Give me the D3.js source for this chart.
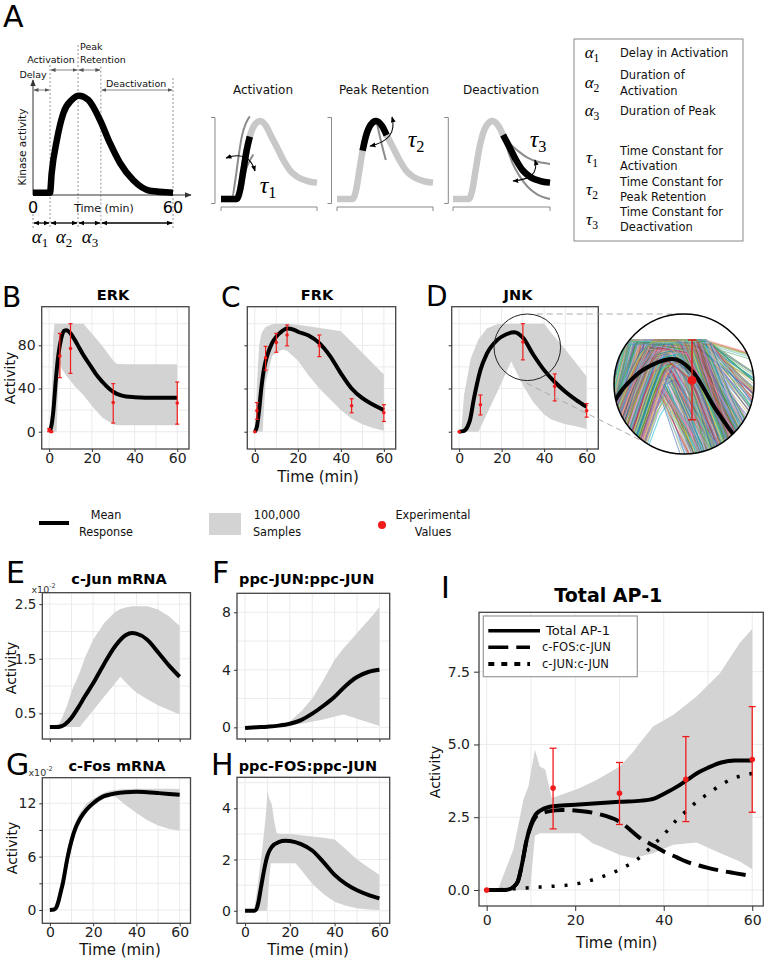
<!DOCTYPE html>
<html><head><meta charset="utf-8">
<script src="https://cdn.jsdelivr.net/npm/d3@7"></script>
<style>body{margin:0;background:#fff}svg{display:block}</style>
</head><body><script>
// ---------------- DATA ----------------
// Panel A schematic (normalised kinase activity)
const schemTime = [0,7.3,8,10.2,13,16.6,19.7,23.7,28.7,33,37.3,42.9,50.1,60];
const schemAct  = [0,0,0.2,0.54,0.82,0.956,1,0.956,0.75,0.51,0.306,0.13,0.02,0];
const phaseBounds = [0,7.3,19.3,29.1,60];
const insetTime = [0,9.8,12,14,16,18,21,24.4,28,31,34.8,39,43,48,54,60];
const insetAct  = [0,0,0.12,0.37,0.62,0.8,0.95,1,0.94,0.82,0.67,0.5,0.37,0.28,0.23,0.21];
const insetEarlyT = [0,6.7,9,11,13,15.5,18];
const insetEarlyV = [0,0,0.25,0.55,0.8,0.97,1.06];
const insetLateT = [9,11,14,17,20.2];
const insetLateV = [0,0.1,0.28,0.45,0.57];
const insetPeakVarT = [25,27.5,30.5];
const insetPeakVarV = [0.97,0.74,0.5];
const insetSlowT = [31,34.8,40,46,52,60];
const insetSlowV = [0.82,0.72,0.62,0.53,0.48,0.45];
const insetFastT = [31,34,37,41,46,52,60];
const insetFastV = [0.82,0.62,0.45,0.3,0.16,0.06,0];
const paramSymbols = ["α","α","α","τ","τ","τ"];
const paramSubs = ["1","2","3","1","2","3"];
const paramText = [["Delay in Activation"],["Duration of","Activation"],["Duration of Peak"],
  ["Time Constant for","Activation"],["Time Constant for","Peak Retention"],["Time Constant for","Deactivation"]];

// ERK
const erkTime = [0,1,2,3,4,5,6,7,8,9,10,12,14,16,18,20,22,25,28,30,33,36,40,50,60];
const erkMean = [0,5,20,45,66,80,89,93.5,94,93,91,85,78,71,65,59,53,46,40,37,34,32.5,32,31.5,31.5];
const erkBandTime = [0,1,2,2.5,3.5,4,4.7,6,8,12,16,20,25,30,31.5,35,40,50,60];
const erkBandLow  = [0,0,0,0,0,30,64,58,52,42,34,24,13,7,6,6,6,6,6];
const erkBandHigh = [0,20,90,100,100,100,100,100,100,100,100,91,79,66,63,62.5,62.5,62.5,62.5];
const erkExpTime = [0,1,5,10,30,60];
const erkExpVal  = [1.5,0,70,77,27,26.5];
const erkExpLow  = [0,-0.5,50,54,8,7];
const erkExpHigh = [3,0.5,91,100,44.5,46];
// FRK
const frkTime = [0,1,2,3,4,5,6,8,10,12,15,18,20,25,30,35,40,45,50,55,60];
const frkMean = [0,5,20,40,55,65,72,82,88,92,95.5,94.5,92.5,89,82,70,54,40,31,25,20];
const frkBandTime = [0,0.5,1,2,3,3.6,5,8,10,13,15,20,25,30,33.5,40,45,50,55,60];
const frkBandLow  = [0,0,0,0,0,0,45,70,73,76,75,66,52,40,33,20,12,7,3.5,1];
const frkBandHigh = [0,15,45,80,90,93,97,99.5,100,100,100,99,97.5,96,95,93,83,73,63,53];
const frkExpTime = [0,1,5,10,15,30,45,60];
const frkExpVal  = [0,19.5,68.5,82.5,89.5,79.5,24,17.5];
const frkExpLow  = [0,11.5,57,73.5,79.5,69.5,17.5,9.5];
const frkExpHigh = [0,27,79,91,98.8,89.5,30.5,25];
// JNK
const jnkTime = [0,2,4,5,7,10,13,18,22,26,30,35,40,45,50,55,60];
const jnkMean = [0,0.5,5,10,31,57,72,85,90,92,87,71,57,46,37,29.5,23];
const jnkBandTime = [0,1,2.3,5.5,9,9.3,13.2,18,24.5,30,35,40,43.6,50,55,60];
const jnkBandLow  = [0,0,0,0,0,1,17,37,65,43,27,16,11,7,5,2.5];
const jnkBandHigh = [0,0,34,68,85,86,95.7,99.5,100,100,100,100,91,76,63.5,51];
const jnkExpTime = [0,10,30,45,60];
const jnkExpVal  = [0,25,83,42,19.5];
const jnkExpLow  = [0,15.5,66.5,28.5,13.5];
const jnkExpHigh = [0,34,100,53.5,26];
// JNK magnified sample trajectories (t, activity)
const zoomSamples = [
 [[12,60],[16,100],[30,100],[40,52]],[[12,70],[17,100],[28,100],[36,50]],[[13,55],[18,100],[31,100],[43,60]],
 [[12,50],[19,100],[29,100],[37,55]],[[14,58],[20,100],[32,100],[41,48]],[[12,75],[16.5,100],[27,100],[34,50]],
 [[13,62],[18.5,100],[30.5,100],[45,65]],[[15,55],[21,100],[33,100],[46,72]],[[12,65],[17.5,100],[26,100],[33,50]],
 [[16,52],[22,100],[29.5,100],[39,50]],[[13,50],[20.5,100],[31.5,100],[38,45]],[[14,68],[18,100],[32.5,100],[48,80]],
 [[12,57],[17,100],[25,100],[31,50]],[[17,55],[23,100],[30,100],[42,50]],[[13,72],[16,100],[28.5,100],[40,58]],
 [[15,62],[19.5,100],[27.5,100],[35,52]],[[14,52],[21.5,100],[31,100],[44,55]],[[12,53],[18,100],[33,100],[50,90]],
 [[16,60],[20,100],[26.5,100],[36,55]],[[13,66],[17,100],[29,100],[38,50]],[[18,52],[23.5,100],[28,100],[37,48]],
 [[12,62],[19,100],[30,100],[35,60]],[[13.5,60],[19,85],[24,92],[35,52]],[[13.5,55],[20,82],[25,88],[33,52]],
 [[18.6,52],[22,70],[24.5,78],[29,52]],[[18,52],[21.5,72],[24,80],[30,52]],[[17,52],[21,76],[23.6,82],[31,52]],
 [[13.5,65],[18,88],[22,95],[30,70],[36,52]],[[14,70],[19,92],[23,97],[34,62]],[[15,52],[20,80],[25,85],[32,52]],
 [[13.5,52],[17,70],[22,85],[30,60]],[[13.5,52],[17,62],[20,75],[23,90]],[[25,100],[33,100],[44,85]],
 [[27,100],[32,100],[44,75]],[[30,100],[33,100],[43.5,82]],[[27,100],[36,52]],[[29,100],[38,52]],
 [[26,100],[34,52]],[[31,100],[40,52]],[[32,100],[42,52]],[[14.5,45],[17.5,67],[20.5,88],[23,100]],
 [[15.5,45],[18.5,66],[21.5,86],[24,100]],[[13.5,45],[16,60],[19,80],[22,97]],[[16.5,45],[19,62],[22,82],[24.5,95]],
 [[13,45],[15.5,58],[18,74],[20.5,90],[23,100],[29,100],[37,60]],[[14,45],[16.5,58],[19,74],[21.5,90],[24,100],[30,100],[38,58]],
 [[15,45],[17.5,58],[20,72],[22.5,88],[25,99],[31,98],[40,60]],[[16,45],[18.5,58],[21,72],[23.5,86],[26,95],[32,90],[42,60]],
 [[17,45],[19,56],[21,68],[23,80],[25,90],[29,92],[38,62]],[[13,50],[15,60],[17,72],[19,84],[21,94],[23,100],[33,100],[44,70]],
 [[13,55],[15.5,70],[18,84],[20,94],[22,100],[31,100],[46,75]],[[13.5,48],[16,62],[18.5,78],[21,92],[23,100]],
 [[14.5,48],[17,60],[19.5,76],[22,90],[24.5,100]],[[28,100],[35,60],[38,45]],[[30,100],[37,55]],
 [[29,100],[34,70],[38,50]],[[31,100],[36,70],[41,50]],[[33,100],[38,75],[43,55]],
 [[12.5,58],[15,72],[17.5,86],[20,96],[22,100],[27,100],[33,78],[38,52]],[[12.5,48],[15,62],[17,74],[19.5,88],[22,98],[28,96],[35,66]],
 [[12,45],[14,55],[16,66],[18,78],[20,88],[22,94],[26,96],[32,80],[37,55]],[[12,52],[14.5,64],[17,77],[19.5,89],[22,96]],
 [[15,45],[17,55],[19,66],[21,78],[23,88],[26,93],[31,85],[36,60]],[[12,40],[15,52],[17.5,64],[20,78],[22.5,92]]
];
const zoomShift = [0,0.4,-0.4,0.8,-0.8,1.2,-1.2];
const zoomPalette = ["#4c72b0","#55a868","#c44e52","#8172b2","#ccb974","#64b5cd","#e377c2","#2ca02c",
  "#1f77b4","#9467bd","#d62728","#17becf","#98df8a","#ff9896","#aec7e8","#c5b0d5","#bcbd22","#8c564b"];

// c-Jun mRNA (x10^-2)
const cjunTime = [0,3,5,7,10,13,16,20,25,30,35,38,40,45,50,55,60];
const cjunMean = [0.25,0.25,0.26,0.3,0.42,0.6,0.8,1.05,1.4,1.72,1.93,1.97,1.96,1.85,1.62,1.38,1.17];
const cjunBandTime = [0,4,6,8,10,13.8,16,20,25,30,32.6,35,38,40,45,50,55,60];
const cjunBandLow  = [0.25,0.25,0.25,0.25,0.25,0.25,0.36,0.55,0.8,1.04,1.17,1.07,0.95,0.88,0.76,0.65,0.56,0.48];
const cjunBandHigh = [0.25,0.28,0.45,0.65,0.9,1.25,1.5,1.85,2.15,2.35,2.41,2.44,2.46,2.46,2.46,2.4,2.28,2.1];
// ppc-JUN:ppc-JUN
const jjTime = [0,5,10,15,20,25,30,35,40,45,50,55,60];
const jjMean = [-0.05,0,0.05,0.12,0.25,0.5,0.95,1.5,2.13,2.9,3.5,3.85,4.0];
const jjBandTime = [0,10,15,20,25,30,35,40,44,48,52,56,60];
const jjBandLow  = [0,0,0.05,0.15,0.25,0.4,0.55,0.75,0.9,0.7,0.5,0.3,0.1];
const jjBandHigh = [0,0.05,0.15,0.4,1.1,2.0,3.3,4.7,5.5,6.2,6.9,7.6,8.35];
// c-Fos mRNA (x10^-2)
const cfosTime = [0,2,3,4,5,6,8,10,12,14,17,20,25,28,30,35,40,45,50,55,60];
const cfosMean = [0,0.05,0.3,1.0,2.0,3.0,5.7,7.8,9.3,10.3,11.3,12.0,12.8,13.0,13.1,13.25,13.3,13.25,13.15,13.05,12.95];
const cfosBandLow  = [0,0,0.05,0.4,1.2,2.2,4.8,7.0,8.7,9.8,10.9,11.7,12.5,12.7,12.8,11.8,10.9,10.1,9.5,9.15,8.9];
const cfosBandHigh = [0,0.3,1.0,2.0,3.0,4.2,6.8,8.7,10.0,11.0,12.0,12.5,13.2,13.4,13.5,13.6,13.65,13.65,13.65,13.65,13.6];
// ppc-FOS:ppc-JUN
const fjTime = [0,4,5,6,7,8,9,10,12,15,18,20,25,30,35,40,45,50,55,60];
const fjMean = [0,0,0.05,0.35,0.85,1.35,1.8,2.15,2.5,2.68,2.73,2.72,2.6,2.35,1.9,1.4,1.05,0.8,0.62,0.48];
const fjBandTime = [0,4,5.5,7.8,9,9.6,10,10.7,11.5,12,13,14.2,16,20,22.5,25,30,35,40,45,50,55,60];
const fjBandHigh = [0,0,0.9,2.5,3.5,4.1,4.7,4.4,4.25,4.13,3.5,3.02,3.0,3.0,2.98,2.95,2.9,2.85,2.78,2.4,2.0,1.7,1.4];
const fjBandLow  = [0,0,0,0,0,0,0.2,1.2,1.85,1.85,1.85,1.85,1.85,1.85,1.85,1.6,1.05,0.65,0.35,0.2,0.1,0.05,0.03];
// Total AP-1
const apTime   = [0,4,5,6,7,8,9,10,11,12,14,17,20,25,30,35,38,40,43,45,48,50,53,56,60];
const apTotal  = [0,0,0.02,0.1,0.28,0.9,1.7,2.25,2.58,2.72,2.85,2.9,2.93,2.98,3.03,3.07,3.15,3.3,3.55,3.75,4.05,4.2,4.38,4.45,4.45];
const apFosJun = [0,0,0.02,0.1,0.28,0.9,1.7,2.2,2.5,2.6,2.7,2.75,2.73,2.62,2.35,1.75,1.5,1.32,1.12,0.98,0.84,0.76,0.66,0.58,0.48];
const apJunJun = [0,0.02,0.03,0.04,0.05,0.06,0.07,0.08,0.09,0.1,0.12,0.15,0.2,0.4,0.7,1.17,1.6,1.9,2.42,2.7,3.1,3.3,3.62,3.85,4.0];
const apBandTime = [0,2.5,6,8.3,9.5,9.8,10.9,12,13.2,14.7,17,20,21,24,24.8,30.1,33.1,34.6,37.6,42.2,47.4,52.7,57.2,60];
const apBandHigh = [0,0,1.38,3.1,3.6,3.9,4.82,4.24,4.15,3.15,3.28,3.44,3.5,3.72,3.78,4.24,4.75,5.05,5.62,6.02,6.65,7.45,8.49,8.97];
const apBandLow  = [0,0,0,0,0,0,1.86,1.95,1.95,1.95,1.95,1.95,1.95,1.6,1.55,1.2,1.09,1.15,1.26,1.55,1.63,1.27,0.98,0.71];
const apExpTime = [0,15,30,45,60];
const apExpVal  = [0,3.5,3.32,3.8,4.48];
const apExpLow  = [0,2.1,2.25,2.35,2.67];
const apExpHigh = [0,4.87,4.38,5.27,6.3];

// ---------------- DRAWING ----------------
const BAND = "#d3d3d3", RED = "#f01c1c", GRID = "#ebebeb", FRAME = "#444";
const SANS = "DejaVu Sans, sans-serif", SERIF = "Liberation Serif, DejaVu Serif, serif";
const svg = d3.select("body").append("svg").attr("width",775).attr("height",959).style("font-family",SANS);
const defs = svg.append("defs");
function marker(id,size,color){
  defs.append("marker").attr("id",id).attr("viewBox","0 0 10 10").attr("refX",9).attr("refY",5)
    .attr("markerWidth",size).attr("markerHeight",size).attr("markerUnits","userSpaceOnUse")
    .attr("orient","auto-start-reverse").append("path").attr("d","M0,1L10,5L0,9Z").attr("fill",color);
}
marker("ahS",5,"#555"); marker("ahK",6,"#000"); marker("ahA",7,"#333");
const zip = (a,b)=>a.map((v,i)=>[v,b[i]]);
function txt(x,y,s,o={}){
  const t = svg.append("text").attr("x",x).attr("y",y).text(s)
    .attr("font-size",o.size||12).attr("fill",o.fill||"#111")
    .attr("text-anchor",o.anchor||"middle").attr("dominant-baseline",o.base||"central");
  if(o.weight) t.attr("font-weight",o.weight);
  if(o.family) t.attr("font-family",o.family);
  if(o.rotate) t.attr("transform",`rotate(${o.rotate},${x},${y})`);
  return t;
}
function letter(x,y,s,size){ txt(x,y,s,{size:size||30,anchor:"start",base:"alphabetic",fill:"#000"}); }
function symbol(x,y,sym,sub,size){
  const t = svg.append("text").attr("x",x).attr("y",y).attr("text-anchor","middle")
    .attr("font-family",SERIF).attr("font-size",size).attr("fill","#000");
  t.append("tspan").attr("font-style","italic").text(sym);
  t.append("tspan").attr("font-size",size*0.68).attr("dy",size*0.22).text(sub);
}

// ---- Panel A: schematic ----
letter(3,27,"A",30);
const ax = d3.scaleLinear().domain([0,60]).range([33,173]);
const ay = d3.scaleLinear().domain([0,1]).range([192.7,95.7]);
const bTop = [null,65,45,66.7,78];
phaseBounds.forEach((b,i)=>{
  svg.append("line").attr("x1",ax(b)).attr("x2",ax(b)).attr("y1",i===0?214:bTop[i]).attr("y2",228)
    .attr("stroke","#777").attr("stroke-width",0.8).attr("stroke-dasharray","2,2");
});
svg.append("line").attr("x1",33).attr("y1",195).attr("x2",33).attr("y2",80).attr("stroke","#333").attr("marker-end","url(#ahA)");
svg.append("line").attr("x1",33).attr("y1",195).attr("x2",191).attr("y2",195).attr("stroke","#333").attr("marker-end","url(#ahA)");
svg.append("path").datum(zip(schemTime,schemAct)).attr("fill","none").attr("stroke","#000")
  .attr("stroke-width",6.5).attr("stroke-linejoin","round")
  .attr("d",d3.line().x(d=>ax(d[0])).y(d=>ay(d[1])).curve(d3.curveMonotoneX));
const topArrows = [[0,1,90],[1,2,70],[2,3,70],[3,4,90]];
topArrows.forEach(a=>svg.append("line").attr("x1",ax(phaseBounds[a[0]])+1).attr("x2",ax(phaseBounds[a[1]])-1)
  .attr("y1",a[2]).attr("y2",a[2]).attr("stroke","#666").attr("stroke-width",0.8)
  .attr("marker-start","url(#ahS)").attr("marker-end","url(#ahS)"));
[0,1,2,3].forEach(i=>svg.append("line").attr("x1",ax(phaseBounds[i])+1).attr("x2",ax(phaseBounds[i+1])-1)
  .attr("y1",223).attr("y2",223).attr("stroke","#000").attr("stroke-width",1.3)
  .attr("marker-start","url(#ahK)").attr("marker-end","url(#ahK)"));
txt(33,78,"Delay",{size:9.5,base:"alphabetic"});
txt(51,62.7,"Activation",{size:9.5,base:"alphabetic"});
txt(80,50,"Peak",{size:9.5,base:"alphabetic",anchor:"start"});
txt(80,62.7,"Retention",{size:9.5,base:"alphabetic",anchor:"start"});
txt(106,86.7,"Deactivation",{size:9.5,base:"alphabetic",anchor:"start"});
txt(22,147,"Kinase activity",{size:10.5,rotate:-90});
txt(33,213,"0",{size:16,base:"alphabetic",fill:"#000"});
txt(173,213,"60",{size:16,base:"alphabetic",fill:"#000"});
txt(104,211.5,"Time (min)",{size:11,base:"alphabetic"});
symbol(40,243,"α","1",19); symbol(64,243,"α","2",19); symbol(90,243,"α","3",19);

// insets
const insets = [
  {x0:221,x1:317,bx:215,title:"Activation",tx:263},
  {x0:337,x1:433,bx:331.5,title:"Peak Retention",tx:384},
  {x0:453,x1:550,bx:448.3,title:"Deactivation",tx:501}];
insets.forEach((c,k)=>{
  const ix = d3.scaleLinear().domain([0,60]).range([c.x0,c.x1]);
  const iy = d3.scaleLinear().domain([0,1]).range([199,121]);
  const ln = d3.line().x(d=>ix(d[0])).y(d=>iy(d[1])).curve(d3.curveMonotoneX);
  txt(c.tx,90,c.title,{size:12});
  svg.append("path").attr("d",`M${c.bx-4},117.5H${c.bx}V203.5H${c.bx-4}`).attr("fill","none").attr("stroke","#888");
  svg.append("path").attr("d",`M${c.x0},211V207H${c.x1}V211`).attr("fill","none").attr("stroke","#888");
  const full = zip(insetTime,insetAct);
  svg.append("path").datum(full).attr("d",ln).attr("fill","none").attr("stroke","#c8c8c8").attr("stroke-width",6.5);
  const grey = d => svg.append("path").datum(d).attr("d",ln).attr("fill","none").attr("stroke","#8c8c8c").attr("stroke-width",2);
  const black = d => svg.append("path").datum(d).attr("d",ln).attr("fill","none").attr("stroke","#000").attr("stroke-width",6.5);
  if(k===0){ grey(zip(insetEarlyT,insetEarlyV)); grey(zip(insetLateT,insetLateV)); black(full.filter(d=>d[0]<=18)); }
  if(k===1){ grey(zip(insetPeakVarT,insetPeakVarV)); black(full.filter(d=>d[0]>=16&&d[0]<=31)); }
  if(k===2){ grey(zip(insetSlowT,insetSlowV)); grey(zip(insetFastT,insetFastV)); black(full.filter(d=>d[0]>=31)); }
});
const arcs = ["M226,158Q249,150 255,171","M392,117Q398,140 370,146","M535,160Q540,179 513,181"];
arcs.forEach(a=>svg.append("path").attr("d",a).attr("fill","none").attr("stroke","#000").attr("stroke-width",1.1)
  .attr("marker-start","url(#ahK)").attr("marker-end","url(#ahK)"));
symbol(268,193,"τ","1",24); symbol(416,147,"τ","2",24); symbol(538,147,"τ","3",24);

// A legend box
svg.append("rect").attr("x",574).attr("y",39).attr("width",169).attr("height",202).attr("fill","none").attr("stroke","#888");
const symY = [53,83,111,158,190,220];
const txtY = [[53],[75,91],[111],[151,166],[182,197],[212,227]];
paramSymbols.forEach((s,i)=>{
  symbol(592,symY[i]+5,s,paramSubs[i],17);
  paramText[i].forEach((l,j)=>txt(620,txtY[i][j],l,{size:11.5,anchor:"start"}));
});

// ---- Generic panel ----
let clipId = 0;
function panel(c){
  const x = d3.scaleLinear().domain(c.xDom).range([c.l,c.r]);
  const y = d3.scaleLinear().domain(c.yDom).range([c.b,c.t]);
  const id = "clip"+(clipId++);
  defs.append("clipPath").attr("id",id).append("rect").attr("x",c.l).attr("y",c.t).attr("width",c.r-c.l).attr("height",c.b-c.t);
  const g = svg.append("g");
  g.selectAll(null).data(c.xGrid).join("line").attr("x1",d=>x(d)).attr("x2",d=>x(d)).attr("y1",c.t).attr("y2",c.b).attr("stroke",GRID);
  g.selectAll(null).data(c.yGrid).join("line").attr("y1",d=>y(d)).attr("y2",d=>y(d)).attr("x1",c.l).attr("x2",c.r).attr("stroke",GRID);
  const pg = g.append("g").attr("clip-path",`url(#${id})`);
  if(c.band){
    pg.append("path").datum(c.band[0].map((t,i)=>[t,c.band[1][i],c.band[2][i]]))
      .attr("d",d3.area().x(d=>x(d[0])).y0(d=>y(d[1])).y1(d=>y(d[2]))).attr("fill",BAND);
  }
  (c.lines||[]).forEach(L=>{
    pg.append("path").datum(zip(L.t,L.v)).attr("fill","none").attr("stroke","#000").attr("stroke-width",L.w||4)
      .attr("stroke-dasharray",L.dash||null)
      .attr("d",d3.line().x(d=>x(d[0])).y(d=>y(d[1])).curve(d3.curveMonotoneX));
  });
  if(c.exp){
    const [et,ev,elo,ehi] = c.exp, cw = c.cap||2;
    et.forEach((t,i)=>{
      if(ehi[i]>elo[i]){
        g.append("line").attr("x1",x(t)).attr("x2",x(t)).attr("y1",y(elo[i])).attr("y2",y(ehi[i])).attr("stroke",RED).attr("stroke-width",c.ew||1.2);
        [elo[i],ehi[i]].forEach(v=>g.append("line").attr("x1",x(t)-cw).attr("x2",x(t)+cw).attr("y1",y(v)).attr("y2",y(v)).attr("stroke",RED).attr("stroke-width",c.ew||1.2));
      }
      g.append("circle").attr("cx",x(t)).attr("cy",y(ev[i])).attr("r",c.pr||1.8).attr("fill",RED);
    });
  }
  g.append("rect").attr("x",c.l).attr("y",c.t).attr("width",c.r-c.l).attr("height",c.b-c.t)
    .attr("fill","none").attr("stroke",FRAME).attr("stroke-width",1.3);
  const fs = c.fs||14, ts = c.ts||3, tp = c.tp===undefined?1:c.tp;
  const xa = g.append("g").attr("transform",`translate(0,${c.b})`)
    .call(d3.axisBottom(x).tickValues(c.xTicks).tickSize(ts).tickPadding(tp).tickFormat(d=>c.xLab&&c.xLab.includes(d)?c.xFmt(d):""));
  const ya = g.append("g").attr("transform",`translate(${c.l},0)`)
    .call(d3.axisLeft(y).tickValues(c.yTicks).tickSize(ts).tickPadding(c.ytp||3).tickFormat(d=>c.yLab&&c.yLab.includes(d)?c.yFmt(d):""));
  [xa,ya].forEach(a=>{a.select(".domain").remove(); a.selectAll("line").attr("stroke","#333");
    a.selectAll("text").attr("font-size",fs).attr("font-family",SANS).attr("fill","#222");});
  return {x,y};
}
const f0 = d3.format("d"), f1 = d3.format(".1f");
const xT10 = [0,10,20,30,40,50,60], xT20 = [0,20,40,60];

// ---- B, C, D ----
const rowBy = {t:306.7,b:449,yDom:[-16,115.7],xDom:[-3.5,65.5],xGrid:xT10,yGrid:[0,20,40,60,80,100],
  xTicks:xT20,xLab:xT20,xFmt:f0,yTicks:[0,40,80],yFmt:f0};
panel({...rowBy,l:41.7,r:189,yLab:[0,40,80],band:[erkBandTime,erkBandLow,erkBandHigh],
  lines:[{t:erkTime,v:erkMean}],exp:[erkExpTime,erkExpVal,erkExpLow,erkExpHigh]});
panel({...rowBy,l:247.3,r:395.7,band:[frkBandTime,frkBandLow,frkBandHigh],
  lines:[{t:frkTime,v:frkMean}],exp:[frkExpTime,frkExpVal,frkExpLow,frkExpHigh]});
panel({...rowBy,l:451.7,r:598.3,band:[jnkBandTime,jnkBandLow,jnkBandHigh],
  lines:[{t:jnkTime,v:jnkMean}],exp:[jnkExpTime,jnkExpVal,jnkExpLow,jnkExpHigh]});
letter(2,307,"B",28); letter(221,307,"C",28); letter(426,306,"D",28);
txt(113,294.5,"ERK",{size:14.5,weight:"bold",fill:"#000"});
txt(317,294.5,"FRK",{size:14.5,weight:"bold",fill:"#000"});
txt(518,294.5,"JNK",{size:14.5,weight:"bold",fill:"#000"});
txt(10,378,"Activity",{size:14,rotate:-90});
txt(318,477,"Time (min)",{size:15});

// magnifier
svg.append("circle").attr("cx",527.3).attr("cy",347.3).attr("r",33.3).attr("fill","none").attr("stroke","#222").attr("stroke-width",1);
svg.append("line").attr("x1",536.7).attr("y1",314).attr("x2",686.7).attr("y2",314).attr("stroke","#aaa").attr("stroke-dasharray","6,4");
svg.append("line").attr("x1",526.7).attr("y1",383.3).attr("x2",640).attr("y2",440).attr("stroke","#aaa").attr("stroke-dasharray","6,4");
defs.append("clipPath").attr("id","zc").append("circle").attr("cx",684).attr("cy",384).attr("r",70);
const zx = d3.scaleLinear().domain([28.3-70/4.708,28.3+70/4.708]).range([614,754]);
const zy = d3.scaleLinear().domain([81.5-70/2.376,81.5+70/2.376]).range([454,314]);
svg.append("circle").attr("cx",684).attr("cy",384).attr("r",70).attr("fill","#fff");
const zg = svg.append("g").attr("clip-path","url(#zc)");
zoomSamples.forEach((s,i)=>zoomShift.forEach((dt,j)=>{
  zg.append("path").datum(s).attr("fill","none").attr("stroke",zoomPalette[(i*5+j*7)%zoomPalette.length])
    .attr("stroke-width",1.1).attr("opacity",0.6).attr("d",d3.line().x(d=>zx(d[0]+dt)).y(d=>zy(d[1]-Math.abs(dt)*1.5)));
}));
zg.append("path").datum(zip(jnkTime,jnkMean)).attr("fill","none").attr("stroke","#000").attr("stroke-width",4)
  .attr("d",d3.line().x(d=>zx(d[0])).y(d=>zy(d[1])).curve(d3.curveMonotoneX));
zg.append("line").attr("x1",zx(30)).attr("x2",zx(30)).attr("y1",zy(jnkExpLow[2])).attr("y2",zy(jnkExpHigh[2])).attr("stroke","#e0201e").attr("stroke-width",1.5);
[jnkExpLow[2],jnkExpHigh[2]].forEach(v=>zg.append("line").attr("x1",zx(30)-4).attr("x2",zx(30)+4).attr("y1",zy(v)).attr("y2",zy(v)).attr("stroke","#e0201e").attr("stroke-width",1.5));
zg.append("circle").attr("cx",zx(30)).attr("cy",zy(jnkExpVal[2])).attr("r",4.5).attr("fill",RED);
svg.append("circle").attr("cx",684).attr("cy",384).attr("r",70).attr("fill","none").attr("stroke","#000").attr("stroke-width",1.5);

// ---- legend row ----
const NARROW = "Liberation Sans Narrow, DejaVu Sans Condensed, sans-serif";
svg.append("line").attr("x1",39).attr("x2",69).attr("y1",523).attr("y2",523).attr("stroke","#000").attr("stroke-width",4);
txt(106,514,"Mean",{size:12.5,family:NARROW}); txt(106,531,"Response",{size:12.5,family:NARROW});
svg.append("rect").attr("x",209).attr("y",513).attr("width",32).attr("height",22).attr("fill",BAND);
txt(277,514,"100,000",{size:12.5,family:NARROW}); txt(277,531,"Samples",{size:12.5,family:NARROW});
svg.append("circle").attr("cx",382).attr("cy",525).attr("r",4).attr("fill",RED);
txt(433,514,"Experimental",{size:12.5,family:NARROW}); txt(433,531,"Values",{size:12.5,family:NARROW});

// ---- E, F, G, H ----
panel({l:42.3,r:190.5,t:592.7,b:739,xDom:[-3.5,65],yDom:[0.03,2.71],xGrid:xT10,yGrid:[0.5,1,1.5,2,2.5],
  xTicks:xT10,yTicks:[0.5,1.5,2.5],yLab:[0.5,1.5,2.5],yFmt:f1,fs:13.5,band:[cjunBandTime,cjunBandLow,cjunBandHigh],
  lines:[{t:cjunTime,v:cjunMean}]});
panel({l:237,r:389.7,t:593.3,b:739,xDom:[-3.6,64.6],yDom:[-0.81,9.32],xGrid:xT10,yGrid:[0,2,4,6,8],
  xTicks:xT10,yTicks:[0,4,8],yLab:[0,4,8],yFmt:f0,band:[jjBandTime,jjBandLow,jjBandHigh],
  lines:[{t:jjTime,v:jjMean}]});
panel({l:42.3,r:190.5,t:777.7,b:923.3,xDom:[-3.5,65],yDom:[-1.5,14.88],xGrid:xT10,yGrid:[0,3,6,9,12],
  xTicks:xT20,xLab:xT20,xFmt:f0,yTicks:[0,3,6,9,12],yLab:[0,6,12],yFmt:f0,band:[cfosTime,cfosBandLow,cfosBandHigh],
  lines:[{t:cfosTime,v:cfosMean}],tp:0.5});
panel({l:237,r:389.7,t:777.3,b:923.3,xDom:[-3.6,64.6],yDom:[-0.49,5.21],xGrid:xT10,yGrid:[0,1,2,3,4,5],
  xTicks:xT20,xLab:xT20,xFmt:f0,yTicks:[0,2,4],yLab:[0,2,4],yFmt:f0,band:[fjBandTime,fjBandLow,fjBandHigh],
  lines:[{t:fjTime,v:fjMean}],tp:0.5});
letter(6,583.3,"E",30); letter(212,583.3,"F",30); letter(6,775,"G",30); letter(211,775,"H",30);
txt(119,579,"c-Jun mRNA",{size:14.5,weight:"bold",fill:"#000"});
txt(306.7,579,"ppc-JUN:ppc-JUN",{size:14.5,weight:"bold",fill:"#000"});
txt(117,765.7,"c-Fos mRNA",{size:14.5,weight:"bold",fill:"#000"});
txt(308,765.7,"ppc-FOS:ppc-JUN",{size:14.5,weight:"bold",fill:"#000"});
function x10(xp,yp){
  const t = svg.append("text").attr("x",xp).attr("y",yp).attr("font-size",9.5).attr("fill","#333").attr("dominant-baseline","central");
  t.append("tspan").text("x10"); t.append("tspan").attr("font-size",6.5).attr("dy",-3).text("-2");
}
x10(31.5,588.5); x10(28.5,771.5);
txt(11,668,"Activity",{size:14,rotate:-90});
txt(12,848,"Activity",{size:14,rotate:-90});
txt(120,950,"Time (min)",{size:15});
txt(308,950,"Time (min)",{size:15});

// ---- I ----
panel({l:479,r:763.3,t:612.3,b:906,xDom:[-1.74,62.5],yDom:[-0.55,9.54],xGrid:xT10,yGrid:[0,2.5,5,7.5],
  xTicks:xT20,xLab:xT20,xFmt:f0,yTicks:[0,2.5,5,7.5],yLab:[0,2.5,5,7.5],yFmt:f1,fs:14,ts:5,tp:4,ytp:4,
  band:[apBandTime,apBandLow,apBandHigh],
  lines:[{t:apTime,v:apFosJun,dash:"20,8"},{t:apTime,v:apJunJun,dash:"3,10",w:3.5},{t:apTime,v:apTotal}],
  exp:[apExpTime,apExpVal,apExpLow,apExpHigh],cap:3.5,pr:2.8,ew:1.3});
letter(441,598.3,"I",30);
txt(608.3,595,"Total AP-1",{size:19,weight:"bold",fill:"#000"});
txt(435,772,"Activity",{size:14,rotate:-90});
txt(616.7,943,"Time (min)",{size:15});
svg.append("rect").attr("x",483.3).attr("y",616).attr("width",154).attr("height",60.7).attr("fill","#fff").attr("stroke","#999").attr("stroke-width",1.2);
svg.append("line").attr("x1",488.3).attr("x2",540).attr("y1",630.7).attr("y2",630.7).attr("stroke","#000").attr("stroke-width",3.5);
svg.append("line").attr("x1",488.3).attr("x2",530).attr("y1",647.3).attr("y2",647.3).attr("stroke","#000").attr("stroke-width",3.5).attr("stroke-dasharray","20,8");
svg.append("line").attr("x1",488.3).attr("x2",530).attr("y1",664).attr("y2",664).attr("stroke","#000").attr("stroke-width",4).attr("stroke-dasharray","6,7");
txt(546,630.7,"Total AP-1",{size:13,anchor:"start"});
txt(542,647.3,"c-FOS:c-JUN",{size:11.5,anchor:"start"});
txt(542,664,"c-JUN:c-JUN",{size:11.5,anchor:"start"});
</script></body></html>
